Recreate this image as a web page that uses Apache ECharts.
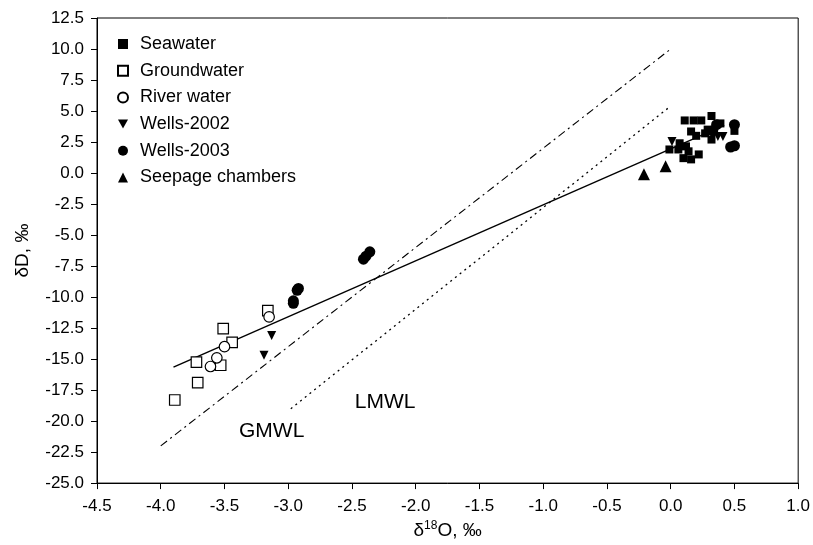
<!DOCTYPE html>
<html lang="en">
<head>
<meta charset="UTF-8">
<script src="https://cdn.jsdelivr.net/npm/echarts@6/dist/echarts.min.js"></script>
<title>dD vs d18O</title>
<style>
  html, body { margin: 0; padding: 0; background: #fff; }
  #chart { width: 813px; height: 545px; }
</style>
</head>
<body>
<div id="chart"></div>
<script>
// values: [d18O, dD]
const seawater = [
  [0.11, 4.24], [0.18, 4.24], [0.24, 4.24], [0.32, 4.6], [0.39, 4.0],
  [0.16, 3.35], [0.20, 3.0], [0.07, 2.4], [0.12, 2.15], [0.06, 1.9],
  [0.14, 1.75], [0.22, 1.5], [0.10, 1.2], [0.16, 1.1], [0.29, 3.5],
  [0.27, 3.2], [0.32, 2.7], [0.50, 3.4], [-0.01, 1.9]
];
const groundwater = [
  [-3.16, -11.1], [-3.51, -12.55], [-3.44, -13.65], [-3.72, -15.25],
  [-3.53, -15.5], [-3.71, -16.9], [-3.89, -18.3]
];
const riverWater = [
  [-3.15, -11.6], [-3.50, -14.0], [-3.56, -14.9], [-3.61, -15.6]
];
const wells2002 = [
  [-3.13, -13.1], [-3.19, -14.7], [0.01, 2.55], [0.37, 2.95], [0.41, 2.95]
];
const wells2003 = [
  [-2.96, -10.5], [-2.96, -10.3], [-2.93, -9.45], [-2.92, -9.3],
  [-2.41, -6.95], [-2.39, -6.7], [-2.36, -6.35],
  [0.36, 3.9], [0.33, 3.4], [0.50, 3.9], [0.47, 2.1], [0.50, 2.2]
];
const seepage = [[-0.21, -0.1], [-0.04, 0.55]];

const regressionLine = [[-3.9, -15.65], [0.42, 3.85]];
const gmwlLine = [[-4.0, -22.0], [0.0, 10.0]];
const lmwlLine = [[-2.98, -19.0], [0.0, 5.4]];
const lineLabels = [[-3.13, -20.8, 'GMWL'], [-2.24, -18.5, 'LMWL']];

const xTicks = { min: -4.5, max: 1.0, step: 0.5 };
const yTicks = { min: -25.0, max: 12.5, step: 2.5 };

const chart = echarts.init(document.getElementById('chart'));
const font = 'Liberation Sans, Arial, sans-serif';
const downTriangle = 'path://M0,0L10,0L5,9Z';

function pointSeries(name, data, symbol, size, filled) {
  return {
    name: name,
    type: 'scatter',
    data: data,
    symbol: symbol,
    symbolSize: size,
    itemStyle: {
      color: filled ? '#000' : '#fff',
      borderColor: '#000',
      borderWidth: filled ? 0 : 1.2,
      opacity: 1
    },
    z: 5
  };
}

function lineSeries(data, type, width) {
  return {
    type: 'line',
    data: data,
    showSymbol: false,
    symbol: 'none',
    silent: true,
    lineStyle: { color: '#000', width: width, type: type },
    z: 3
  };
}

const option = {
  backgroundColor: '#fff',
  animation: false,
  textStyle: { fontFamily: font },
  grid: {
    left: 97, right: 14, top: 18, bottom: 61,
    show: true, borderColor: '#000', borderWidth: 1
  },
  legend: {
    orient: 'vertical',
    left: 112, top: 30,
    itemGap: 8.7,
    itemWidth: 10, itemHeight: 10,
    textStyle: { fontSize: 18, color: '#000', fontFamily: font, padding: [0, 0, 0, 7] },
    data: ['Seawater', 'Groundwater', 'River water', 'Wells-2002', 'Wells-2003', 'Seepage chambers']
  },
  xAxis: {
    type: 'value',
    min: xTicks.min, max: xTicks.max, interval: xTicks.step,
    name: '{a|δ}{s|18}{a|O, ‰}',
    nameLocation: 'middle',
    nameGap: 35,
    nameTextStyle: {
      rich: {
        a: { fontSize: 19, color: '#000', fontFamily: font },
        s: { fontSize: 12, color: '#000', fontFamily: font, verticalAlign: 'top', padding: [0, 0, 9, 0] }
      }
    },
    axisLine: { onZero: false, lineStyle: { color: '#000' } },
    axisTick: { show: true, length: 6, lineStyle: { color: '#000' } },
    axisLabel: { fontSize: 17, color: '#000', margin: 15, formatter: v => v.toFixed(1) },
    splitLine: { show: false }
  },
  yAxis: {
    type: 'value',
    min: yTicks.min, max: yTicks.max, interval: yTicks.step,
    name: 'δD, ‰',
    nameLocation: 'middle',
    nameGap: 65,
    nameTextStyle: { fontSize: 19, color: '#000', fontFamily: font },
    axisLine: { onZero: false, lineStyle: { color: '#000' } },
    axisTick: { show: true, length: 6, lineStyle: { color: '#000' } },
    axisLabel: { fontSize: 17, color: '#000', margin: 13, formatter: v => v.toFixed(1) },
    splitLine: { show: false }
  },
  series: [
    lineSeries(regressionLine, 'solid', 1.4),
    lineSeries(gmwlLine, [8, 4, 2, 4], 1.1),
    lineSeries(lmwlLine, [2, 4], 1.3),
    {
      type: 'scatter',
      data: lineLabels,
      symbolSize: 0,
      silent: true,
      itemStyle: { opacity: 1 },
      label: {
        show: true,
        position: 'inside',
        formatter: p => p.value[2],
        fontSize: 21,
        color: '#000',
        fontFamily: font
      }
    },
    pointSeries('Seawater', seawater, 'rect', 8, true),
    pointSeries('Groundwater', groundwater, 'rect', 10.5, false),
    pointSeries('River water', riverWater, 'circle', 10.5, false),
    pointSeries('Wells-2002', wells2002, downTriangle, 9, true),
    pointSeries('Wells-2003', wells2003, 'circle', 11, true),
    pointSeries('Seepage chambers', seepage, 'triangle', 12, true)
  ]
};

chart.setOption(option);
</script>
</body>
</html>
